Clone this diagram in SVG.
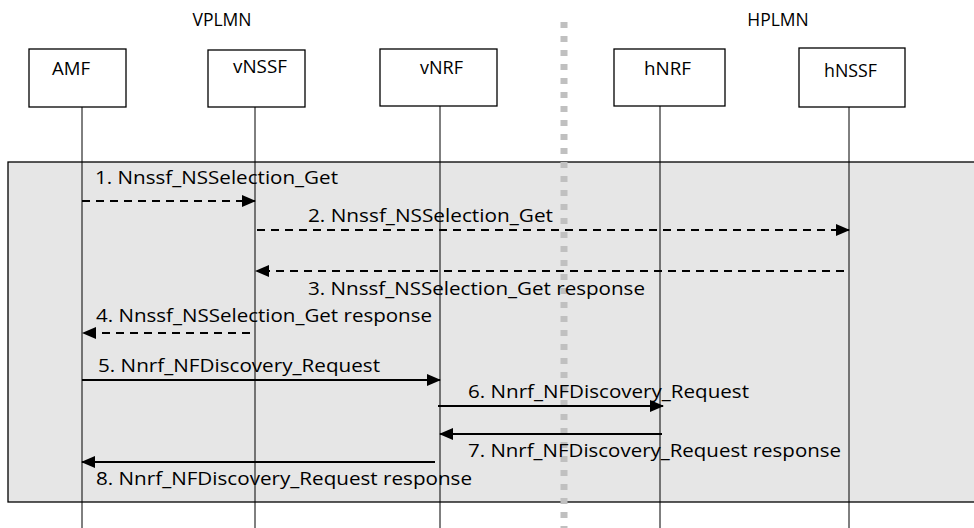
<svg xmlns="http://www.w3.org/2000/svg" width="974" height="528" viewBox="0 0 974 528">
<style>
text{font-family:"Open Sans","Liberation Sans",sans-serif;font-size:17.5px;fill:#000}
.box{fill:#fff;stroke:#000;stroke-width:1.3}
.life{stroke:#000;stroke-width:1}
.dash{stroke:#000;stroke-width:2;stroke-dasharray:8 6;fill:none}
.solid{stroke:#000;stroke-width:2;fill:none}
</style>
<defs>
<marker id="ah" markerWidth="14" markerHeight="12" refX="13" refY="6" orient="auto" markerUnits="userSpaceOnUse">
<path d="M0,0 L14,6 L0,12 Z" fill="#000"/>
</marker>
</defs>
<rect x="0" y="0" width="974" height="528" fill="#fff"/>
<rect x="8" y="162" width="975" height="340" fill="#e6e6e6" stroke="#000" stroke-width="1.3"/>
<text x="222" y="26" text-anchor="middle">VPLMN</text>
<text x="778" y="26" text-anchor="middle">HPLMN</text>
<line x1="564" y1="22" x2="564" y2="528" stroke="#c0c0c0" stroke-width="7" stroke-dasharray="6 8"/>
<g id="lifelines">
<line class="life" x1="82" y1="107" x2="82" y2="528"/>
<line class="life" x1="255" y1="107" x2="255" y2="528"/>
<line class="life" x1="440" y1="106" x2="440" y2="528"/>
<line class="life" x1="660" y1="106" x2="660" y2="528"/>
<line class="life" x1="849" y1="107" x2="849" y2="528"/>
</g>
<g id="AMF"><rect class="box" x="29" y="49" width="97" height="58"/><text x="52" y="75" textLength="38" lengthAdjust="spacingAndGlyphs">AMF</text></g>
<g id="vNSSF"><rect class="box" x="208" y="50" width="97" height="57"/><text x="233" y="73" textLength="54" lengthAdjust="spacingAndGlyphs">vNSSF</text></g>
<g id="vNRF"><rect class="box" x="380" y="49" width="117" height="57"/><text x="420" y="74" textLength="43" lengthAdjust="spacingAndGlyphs">vNRF</text></g>
<g id="hNRF"><rect class="box" x="614" y="49" width="111" height="57"/><text x="644" y="75" textLength="47" lengthAdjust="spacingAndGlyphs">hNRF</text></g>
<g id="hNSSF"><rect class="box" x="799" y="48" width="106" height="59"/><text x="824" y="77" textLength="53" lengthAdjust="spacingAndGlyphs">hNSSF</text></g>
<g id="connectors">
<line class="dash" x1="82" y1="201" x2="255" y2="201" marker-end="url(#ah)"/>
<line class="dash" x1="257" y1="230" x2="849" y2="230" marker-end="url(#ah)"/>
<line class="dash" x1="844" y1="271" x2="256" y2="271" marker-end="url(#ah)"/>
<line class="dash" x1="250" y1="333" x2="83" y2="333" marker-end="url(#ah)"/>
<line class="solid" x1="82" y1="380" x2="440" y2="380" marker-end="url(#ah)"/>
<line class="solid" x1="438" y1="406" x2="663" y2="406" marker-end="url(#ah)"/>
<line class="solid" x1="662" y1="434" x2="440" y2="434" marker-end="url(#ah)"/>
<line class="solid" x1="435" y1="462" x2="82" y2="462" marker-end="url(#ah)"/>
</g>
<g id="labels">
<text x="95" y="184" textLength="243" lengthAdjust="spacingAndGlyphs">1. Nnssf_NSSelection_Get</text>
<text x="308" y="222" textLength="245" lengthAdjust="spacingAndGlyphs">2. Nnssf_NSSelection_Get</text>
<text x="308" y="295" textLength="337" lengthAdjust="spacingAndGlyphs">3. Nnssf_NSSelection_Get response</text>
<text x="96" y="322" textLength="336" lengthAdjust="spacingAndGlyphs">4. Nnssf_NSSelection_Get response</text>
<text x="98" y="372" textLength="282" lengthAdjust="spacingAndGlyphs">5. Nnrf_NFDiscovery_Request</text>
<text x="468" y="398" textLength="281" lengthAdjust="spacingAndGlyphs">6. Nnrf_NFDiscovery_Request</text>
<text x="468" y="457" textLength="373" lengthAdjust="spacingAndGlyphs">7. Nnrf_NFDiscovery_Request response</text>
<text x="96" y="485" textLength="376" lengthAdjust="spacingAndGlyphs">8. Nnrf_NFDiscovery_Request response</text>
</g>
</svg>
